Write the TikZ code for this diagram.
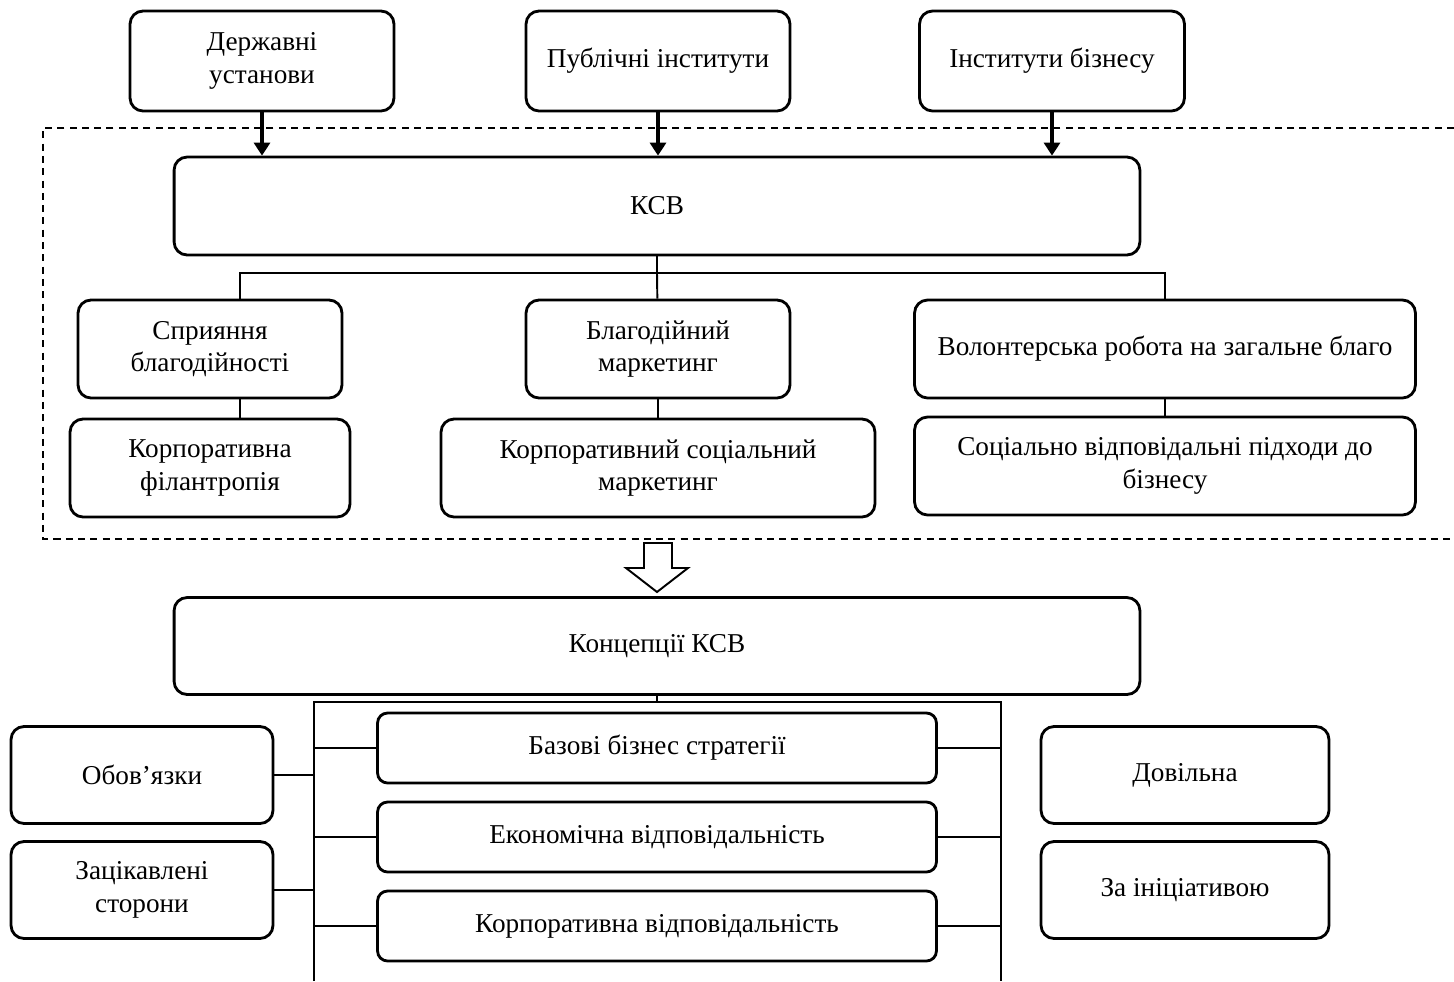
\documentclass[tikz,border=0pt]{standalone}
\usepackage{fontspec}
\setmainfont{Liberation Serif}
\usetikzlibrary{arrows.meta, positioning, calc}

\begin{document}
\begin{tikzpicture}[x=0.02cm, y=-0.02cm, font=\fontsize{15.5}{18.5}\selectfont,
        box/.style={draw, rounded corners=0.26cm, line width=1.6pt, align=center, inner sep=2pt, minimum height=1.96cm},
        inbox/.style={box, rounded corners=0.2cm, minimum width=11.18cm, minimum height=1.4cm},
        link/.style={line width=1.1pt},
        feed/.style={line width=2.3pt, -{Triangle[length=0.26cm, width=0.32cm]}}]
        \useasboundingbox (0,0) rectangle (1454,981);

        \node[box, minimum width=5.28cm, minimum height=2cm] (gov) at (262,61) {Державні\\установи};
        \node[box, minimum width=5.28cm, minimum height=2cm] (pub) at (658,61) {Публічні інститути};
        \node[box, minimum width=5.3cm, minimum height=2cm] (bus) at (1052,61) {Інститути бізнесу};
        \node[box, minimum width=19.32cm] (ksv) at (657,206) {КСВ};

        \node[box, minimum width=5.28cm] (spr) at (210,349) {Сприяння\\благодійності};
        \node[box, minimum width=5.28cm] (blm) at (658,349) {Благодійний\\маркетинг};
        \node[box, minimum width=10.02cm] (vol) at (1165,349) {Волонтерська робота на загальне благо};
        \node[box, minimum width=5.6cm] (kph) at (210,468) {Корпоративна\\філантропія};
        \node[box, minimum width=8.68cm] (ksm) at (658,468) {Корпоративний соціальний\\маркетинг};
        \node[box, minimum width=10.02cm] (svp) at (1165,466) {Соціально відповідальні підходи до\\бізнесу};

        \node[box, minimum width=19.32cm, minimum height=1.94cm] (conc) at (657,646) {Концепції КСВ};
        \node[inbox] (bbs) at (657,748) {Базові бізнес стратегії};
        \node[inbox] (evd) at (657,837) {Економічна відповідальність};
        \node[inbox] (kvd) at (657,926) {Корпоративна відповідальність};

        \node[box, minimum width=5.24cm, minimum height=1.94cm] (obv) at (142,775) {Обов’язки};
        \node[box, minimum width=5.24cm, minimum height=1.94cm] (zst) at (142,890) {Зацікавлені\\сторони};
        \node[box, minimum width=5.76cm, minimum height=1.94cm] (dov) at (1185,775) {Довільна};
        \node[box, minimum width=5.76cm, minimum height=1.94cm] (zai) at (1185,890) {За ініціативою};

        \coordinate (br) at (657,273);
        \coordinate (t1) at (240,273);
        \coordinate (fl) at (314,702);
        \coordinate (fr) at (1001,702);

        \path[feed] (gov) edge (gov.south |- ksv.north)
                    (pub) edge (pub.south |- ksv.north)
                    (bus) edge (bus.south |- ksv.north);

        \draw[dashed, line width=1.4pt, dash pattern=on 4pt off 3pt]
            (1454,128) -- (43,128) -- (43,539) -- (1454,539);

        \draw[link] (ksv) -- (br);
        \draw[link] (t1 |- spr.north) -- (t1) -- (vol.north |- br) -- (vol.north);
        \draw[link] (br) -- (blm);
        \draw[link] (t1 |- spr.south) -- (t1 |- kph.north);
        \draw[link] (blm) -- (ksm);
        \draw[link] (vol) -- (svp);

        \draw[line width=1.1pt, line join=miter]
            (644,543) -- (672,543) -- (672,568) -- (688,568) -- (657,592) -- (626,568) -- (644,568) -- cycle;

        \draw[link] (conc) -- (conc.south |- fl);
        \draw[line width=1.6pt] (fl |- 0,981) -- (fl) -- (fr) -- (fr |- 0,981);

        \foreach \n in {bbs, evd, kvd} {
            \draw[link] (\n.west) -- (\n.west -| fl);
            \draw[link] (\n.east) -- (\n.east -| fr);
        }
        \draw[link] (obv) -- (obv.east -| fl);
        \draw[link] (zst) -- (zst.east -| fl);
        \draw[link] ($(dov.west)+(0,8)$) -- ($(dov.west)+(0,8)$ -| fr);
        \draw[link] ($(zai.west)+(0,8)$) -- ($(zai.west)+(0,8)$ -| fr);
\end{tikzpicture}
\end{document}
